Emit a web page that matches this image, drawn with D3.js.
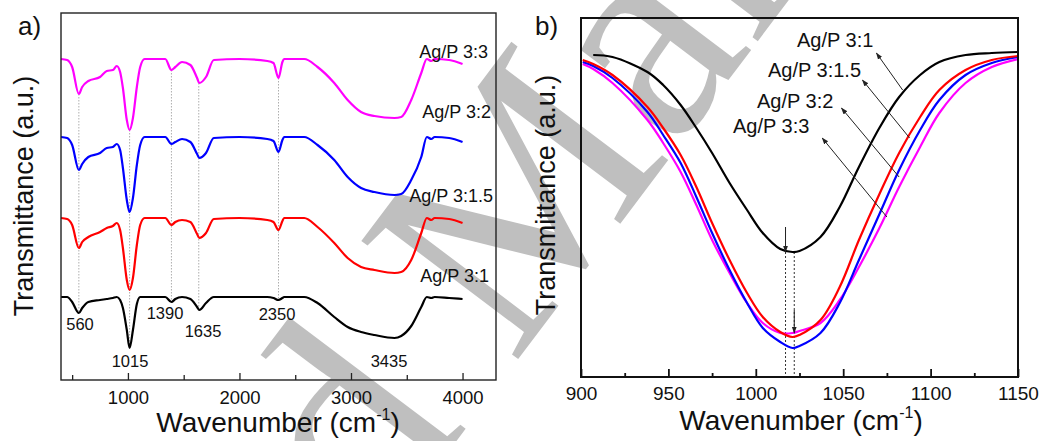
<!DOCTYPE html>
<html>
<head>
<meta charset="utf-8">
<script src="https://cdnjs.cloudflare.com/ajax/libs/d3/7.8.5/d3.min.js"></script>
<style>
  body { margin: 0; background: #fff; }
  text { font-family: "Liberation Sans", Arial, sans-serif; fill: #111; }
</style>
</head>
<body>
<div id="chart"></div>
<script>
// a) full FTIR spectra, wavenumber (cm-1) vs transmittance (a.u., stacked)
const fullWn = [400, 455, 500, 560, 590, 645, 750, 810, 865, 900, 930, 955, 990, 1015, 1045, 1080, 1110, 1150,
  1335, 1390, 1425, 1485, 1560, 1620, 1640, 1700, 1770, 2000, 2250, 2305, 2350, 2385, 2400, 2580, 2700, 2850,
  2970, 3090, 3210, 3390, 3450, 3540, 3630, 3680, 3720, 3750, 3880, 4000];
const full33 = [321, 320, 313, 286, 293, 299, 303, 309, 310, 314, 308, 292, 260, 250, 262, 293, 313, 321,
  321, 310, 313, 318, 315, 302, 297, 303, 320, 321, 319, 317, 302, 318, 321, 321, 313, 297,
  280, 268, 264, 262, 263, 280, 307, 321, 319, 321, 320, 316];
const full32 = [243, 242, 235, 210, 216, 223, 227, 232, 233, 236, 230, 212, 180, 168, 182, 215, 235, 243,
  243, 236, 238, 241, 238, 226, 222, 227, 242, 243, 241, 239, 228, 240, 243, 243, 235, 220,
  203, 192, 188, 185, 186, 200, 223, 243, 241, 243, 242, 238];
const full315 = [162, 161, 155, 132, 138, 143, 148, 152, 154, 157, 150, 132, 100, 90, 102, 135, 155, 162,
  162, 155, 158, 160, 158, 146, 142, 147, 161, 162, 160, 158, 150, 159, 162, 162, 153, 137,
  122, 113, 110, 107, 108, 120, 147, 162, 160, 162, 161, 157];
const full31 = [83, 83, 78, 67, 72, 78, 80, 81, 82, 83, 80, 72, 50, 32, 50, 76, 83, 83,
  83, 78, 81, 83, 81, 73, 70, 77, 83, 83, 83, 82, 80, 82, 83, 83, 77, 63,
  53, 48, 45, 42, 44, 54, 73, 83, 82, 83, 82, 81];
const fullNames = ["Ag/P 3:3", "Ag/P 3:2", "Ag/P 3:1.5", "Ag/P 3:1"];
const peakLines = [560, 1015, 1390, 1635, 2350];
const peakNames = ["560", "1015", "1390", "1635", "2350", "3435"];
const fullTicks = [500, 1000, 1500, 2000, 2500, 3000, 3500, 4000];

// b) zoom on the 1015 band
const zoomWn = [901, 907, 918, 938, 947, 957, 966, 975, 985, 995, 1004, 1014, 1021, 1025, 1037, 1048,
  1059, 1071, 1082, 1094, 1105, 1120, 1135, 1150];
const zoom31 = [null, 322, 320, 305, 292, 272, 249, 224, 194, 167, 144, 128, 125, 126, 140, 170,
  210, 250, 280, 302, 315, 322, 324, 325];
const zoom315 = [317, 313, 302, 270, 249, 222, 190, 154, 117, 84, 60, 45, 40, 42, 57, 90,
  137, 184, 224, 260, 287, 307, 317, 321];
const zoom32 = [315, 311, 299, 265, 242, 214, 180, 144, 107, 74, 49, 35, 29, 31, 44, 74,
  117, 164, 207, 247, 277, 302, 314, 320];
const zoom33 = [313, 308, 294, 257, 234, 205, 172, 137, 104, 74, 54, 44, 44, 46, 54, 77,
  110, 150, 190, 230, 264, 294, 310, 318];
const zoomNames = ["Ag/P 3:1", "Ag/P 3:1.5", "Ag/P 3:2", "Ag/P 3:3"];
// arrows: [tail wn, tail value, head wn, head value]
const zoomArrows = [[1084, 287, 1069, 324], [1088, 239, 1061, 297], [1082, 200, 1049, 269], [1075, 160, 1038, 239]];
const minLines = [1017, 1022];
const minMarks = [[1017, 150, 125], [1022, 67, 44]];
const zoomTicks = [900, 925, 950, 975, 1000, 1025, 1050, 1075, 1100, 1125, 1150];

const colors = { "Ag/P 3:3": "#ff00ff", "Ag/P 3:2": "#0000ff", "Ag/P 3:1.5": "#ff0000", "Ag/P 3:1": "#000000" };

const width = 1049, height = 441;
const svg = d3.select("#chart").append("svg").attr("width", width).attr("height", height);

const defs = svg.append("defs");
defs.append("marker").attr("id", "head").attr("viewBox", "0 0 10 10")
  .attr("refX", 9).attr("refY", 5).attr("markerWidth", 7).attr("markerHeight", 7)
  .attr("orient", "auto-start-reverse")
  .append("path").attr("d", "M0,1.5L10,5L0,8.5Z").attr("fill", "#222");

// watermark, "M" starts at (513,366)
const wm = svg.append("text").attr("transform", "translate(513,366) rotate(-53)")
  .style("font-family", "'Liberation Serif', 'DejaVu Serif', serif")
  .style("font-size", "300px").style("fill", "#bfbfbf").text("Accepted Manuscript");
wm.attr("x", -wm.node().getSubStringLength(0, 9));

// ---------- panel a ----------
const xa = d3.scaleLinear().domain([400, 4300]).range([61, 496]);
const ya = d3.scaleLinear().domain([0, 367]).range([380, 13]);
const ga = svg.append("g");

const seriesA = [full33, full32, full315, full31];
const lineA = d3.line().x((d, i) => xa(fullWn[i])).y(d => ya(d)).curve(d3.curveMonotoneX);

// dotted guides
peakLines.forEach(p => {
  const i = d3.minIndex(fullWn, w => Math.abs(w - p));
  ga.append("line").attr("x1", xa(p)).attr("x2", xa(p))
    .attr("y1", ya(full33[i])).attr("y2", ya(full31[i]))
    .attr("stroke", "#999").attr("stroke-width", 0.8).attr("stroke-dasharray", "1.5,1.5");
});

seriesA.forEach((s, k) => {
  ga.append("path").attr("d", lineA(s)).attr("fill", "none")
    .attr("stroke", colors[fullNames[k]]).attr("stroke-width", 2.2).attr("stroke-linejoin", "round");
});

const axA = d3.axisBottom(xa).tickValues(fullTicks).tickSize(-6).tickFormat(d => d);
const gxa = ga.append("g").attr("transform", "translate(0,380)").call(axA);
gxa.select(".domain").remove();
gxa.selectAll(".tick line").attr("stroke", "#222").attr("stroke-width", 1.3)
  .attr("y2", d => d % 1000 === 0 ? -7 : -5);
gxa.selectAll(".tick").filter(d => d % 1000 !== 0).select("text").remove();
gxa.selectAll(".tick text").attr("y", 11).attr("dy", "0.71em")
  .style("font-size", "18.5px").style("font-family", "'Liberation Sans', Arial, sans-serif").attr("fill", "#111");

ga.append("rect").attr("x", 61).attr("y", 13).attr("width", 435).attr("height", 367)
  .attr("fill", "none").attr("stroke", "#222").attr("stroke-width", 1.4);

const fullLabelPos = [[488, 58], [491, 118], [493, 202], [489, 282]];
fullNames.forEach((n, k) => {
  ga.append("text").attr("x", fullLabelPos[k][0]).attr("y", fullLabelPos[k][1])
    .attr("text-anchor", "end").style("font-size", "18px").text(n);
});

const peakPos = [[80, 330], [130, 367], [165, 319], [203, 337], [277, 320], [389, 367]];
peakNames.forEach((n, k) => {
  ga.append("text").attr("x", peakPos[k][0]).attr("y", peakPos[k][1])
    .attr("text-anchor", "middle").style("font-size", "16.5px").text(n);
});

// ---------- panel b ----------
const xb = d3.scaleLinear().domain([900, 1150]).range([581, 1018]);
const yb = d3.scaleLinear().domain([0, 359]).range([377, 18]);
const gb = svg.append("g");
const seriesB = [zoom31, zoom315, zoom32, zoom33];
const lineB = d3.line().defined(d => d !== null)
  .x((d, i) => xb(zoomWn[i])).y(d => yb(d)).curve(d3.curveCatmullRom.alpha(0.5));

minLines.forEach(w => {
  gb.append("line").attr("x1", xb(w)).attr("x2", xb(w)).attr("y1", yb(125)).attr("y2", yb(0))
    .attr("stroke", "#333").attr("stroke-width", 1).attr("stroke-dasharray", "2,2");
});

// draw order: magenta, blue, red, black on top
[3, 2, 1, 0].forEach(k => {
  gb.append("path").attr("d", lineB(seriesB[k])).attr("fill", "none")
    .attr("stroke", colors[zoomNames[k]]).attr("stroke-width", 2.2);
});

minMarks.forEach(m => {
  gb.append("line").attr("x1", xb(m[0])).attr("x2", xb(m[0])).attr("y1", yb(m[1])).attr("y2", yb(m[2]))
    .attr("stroke", "#222").attr("stroke-width", 1).attr("marker-end", "url(#head)");
});

zoomArrows.forEach(a => {
  gb.append("line").attr("x1", xb(a[0])).attr("y1", yb(a[1])).attr("x2", xb(a[2])).attr("y2", yb(a[3]))
    .attr("stroke", "#222").attr("stroke-width", 1).attr("marker-end", "url(#head)");
});

const axB = d3.axisBottom(xb).tickValues(zoomTicks).tickSize(-8).tickFormat(d => d);
const gxb = gb.append("g").attr("transform", "translate(0,377)").call(axB);
gxb.select(".domain").remove();
gxb.selectAll(".tick line").attr("stroke", "#111").attr("stroke-width", 1.8)
  .attr("y2", d => d % 50 === 0 ? -8 : -4);
gxb.selectAll(".tick").filter(d => d % 50 !== 0).select("text").remove();
gxb.selectAll(".tick text").attr("y", 10).attr("dy", "0.71em")
  .style("font-size", "19px").style("font-family", "'Liberation Sans', Arial, sans-serif").attr("fill", "#111");

gb.append("rect").attr("x", 581).attr("y", 18).attr("width", 437).attr("height", 359)
  .attr("fill", "none").attr("stroke", "#111").attr("stroke-width", 2);

const zoomLabelPos = [[797, 47], [768, 77], [757, 108], [733, 133]];
zoomNames.forEach((n, k) => {
  gb.append("text").attr("x", zoomLabelPos[k][0]).attr("y", zoomLabelPos[k][1])
    .style("font-size", "20px").text(n);
});

// ---------- titles ----------
function xTitle(cx, y) {
  const t = svg.append("text").attr("x", cx).attr("y", y).attr("text-anchor", "middle").style("font-size", "28px");
  t.append("tspan").text("Wavenumber (cm");
  t.append("tspan").attr("dy", -12).style("font-size", "16px").text("-1");
  t.append("tspan").attr("dy", 12).text(")");
}
xTitle(278, 432);
xTitle(801, 430);

function yTitle(x, cy) {
  svg.append("text").attr("transform", `translate(${x},${cy}) rotate(-90)`)
    .attr("text-anchor", "middle").style("font-size", "27px").text("Transmittance (a.u.)");
}
yTitle(33, 196);
yTitle(555, 195);

svg.append("text").attr("x", 18).attr("y", 35).style("font-size", "26px").text("a)");
svg.append("text").attr("x", 535).attr("y", 35).style("font-size", "26px").text("b)");
</script>
</body>
</html>
